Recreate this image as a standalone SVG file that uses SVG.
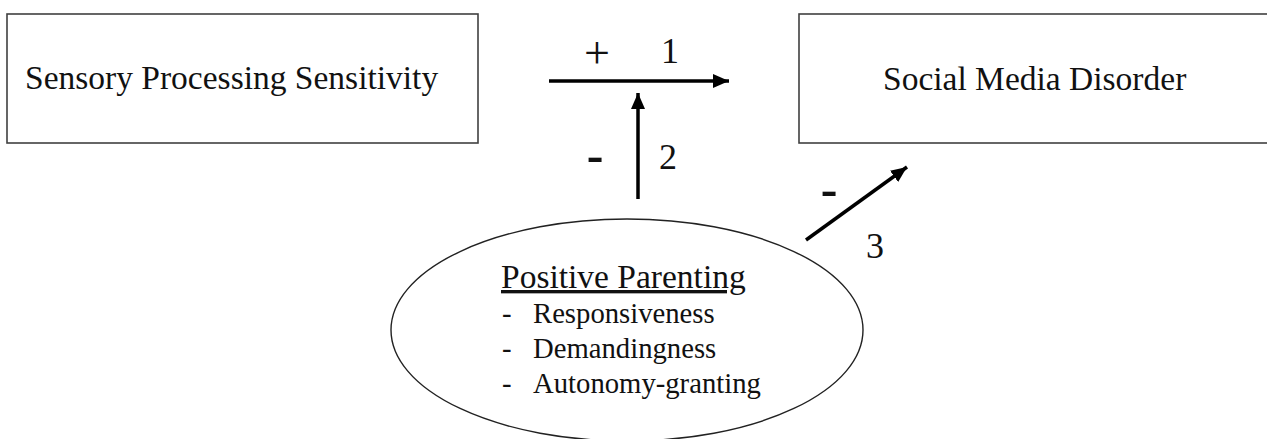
<svg xmlns="http://www.w3.org/2000/svg" width="1267" height="439" viewBox="0 0 1267 439">
<style>
.box{fill:#fff;stroke:#404040;stroke-width:1.6}
.t{font-family:"Liberation Serif","Times New Roman",serif;fill:#111}
.big{font-size:33.5px}
.head{font-size:33.5px}
.mid{font-size:28.7px}
.num{font-size:36px}
.plus{font-size:46px}
.sign{font-size:50px;font-weight:bold}
.arr{stroke:#000;stroke-width:3.5;fill:none}
</style>
<defs>
<marker id="head" viewBox="0 0 16 14" refX="16" refY="7" markerWidth="16" markerHeight="14" orient="auto" markerUnits="userSpaceOnUse">
<path d="M0,0 L16,7 L0,14 Z" fill="#000"/>
</marker>
</defs>
<rect width="1267" height="439" fill="#fff"/>
<g id="sps">
<rect class="box" x="7" y="14" width="471" height="129"/>
<text class="t big" x="25" y="89">Sensory Processing Sensitivity</text>
</g>
<g id="smd">
<rect class="box" x="799" y="14" width="520" height="129"/>
<text class="t big" x="883" y="90">Social Media Disorder</text>
</g>
<g id="pp">
<ellipse cx="627" cy="330" rx="236" ry="111" fill="#fff" stroke="#222" stroke-width="1.4"/>
<text class="t head" x="501" y="288" text-decoration="underline">Positive Parenting</text>
<text class="t mid" x="502" y="323">-</text>
<text class="t mid" x="533" y="323">Responsiveness</text>
<text class="t mid" x="502" y="358">-</text>
<text class="t mid" x="533" y="358">Demandingness</text>
<text class="t mid" x="502" y="393">-</text>
<text class="t mid" x="533" y="393">Autonomy-granting</text>
</g>
<g id="connectors">
<line class="arr" x1="549" y1="81" x2="729" y2="81" marker-end="url(#head)"/>
<line class="arr" x1="638" y1="199" x2="638" y2="93" marker-end="url(#head)"/>
<line class="arr" x1="806" y1="240" x2="907" y2="167" marker-end="url(#head)"/>
<text class="t plus" x="597" y="68" text-anchor="middle">+</text>
<text class="t num" x="670" y="63" text-anchor="middle">1</text>
<text class="t sign" x="595" y="172" text-anchor="middle">-</text>
<text class="t num" x="668" y="169" text-anchor="middle">2</text>
<text class="t sign" x="829" y="206" text-anchor="middle">-</text>
<text class="t num" x="875" y="258" text-anchor="middle">3</text>
</g>
</svg>
